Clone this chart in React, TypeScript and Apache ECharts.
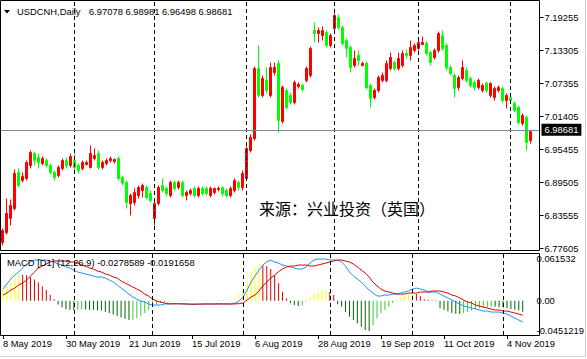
import React, { useEffect, useRef } from 'react';
import * as echarts from 'echarts';

// ---------- data ----------
const SYMBOL = 'USDCNH,Daily';
const FIRST_DAY = '2019-05-08';

// [open, close, low, high]
const candles: number[][] = [
  [6.7869, 6.8085, 6.7815, 6.8121], [6.8049, 6.8392, 6.8013, 6.8662], [6.8302, 6.8536, 6.8175, 6.8644],
  [6.8482, 6.9113, 6.8446, 6.9185], [6.9131, 6.8896, 6.8860, 6.9203], [6.8986, 6.9059, 6.8950, 6.9131],
  [6.9023, 6.9311, 6.8986, 6.9347], [6.9257, 6.9491, 6.9203, 6.9527], [6.9473, 6.9347, 6.9257, 6.9509],
  [6.9401, 6.9311, 6.9203, 6.9473], [6.9293, 6.9383, 6.9257, 6.9419], [6.9347, 6.9257, 6.9221, 6.9383],
  [6.9257, 6.9131, 6.9095, 6.9293], [6.9131, 6.9041, 6.8986, 6.9167], [6.9077, 6.9221, 6.9041, 6.9257],
  [6.9203, 6.9347, 6.9167, 6.9383], [6.9347, 6.9257, 6.9203, 6.9401], [6.9257, 6.9419, 6.9221, 6.9473],
  [6.9347, 6.9221, 6.9167, 6.9473], [6.9257, 6.9167, 6.9113, 6.9293], [6.9203, 6.9311, 6.9167, 6.9347],
  [6.9275, 6.9311, 6.9257, 6.9347], [6.9221, 6.9473, 6.9203, 6.9618], [6.9383, 6.9437, 6.9347, 6.9564],
  [6.9473, 6.9221, 6.9185, 6.9527], [6.9221, 6.9311, 6.9185, 6.9347], [6.9293, 6.9347, 6.9257, 6.9383],
  [6.9347, 6.9383, 6.9311, 6.9419], [6.9329, 6.9365, 6.9293, 6.9383], [6.9383, 6.9023, 6.8986, 6.9419],
  [6.9041, 6.8939, 6.8896, 6.9077], [6.8950, 6.8590, 6.8482, 6.8986], [6.8572, 6.8716, 6.8356, 6.8752],
  [6.8590, 6.8770, 6.8536, 6.8842], [6.8716, 6.8860, 6.8662, 6.8896], [6.8806, 6.8896, 6.8680, 6.8932],
  [6.8860, 6.8680, 6.8644, 6.8896], [6.8752, 6.8626, 6.8590, 6.8806], [6.8302, 6.8572, 6.8175, 6.8626],
  [6.8572, 6.8860, 6.8536, 6.8896], [6.8896, 6.8806, 6.8770, 6.9023], [6.8842, 6.8752, 6.8698, 6.8878],
  [6.8716, 6.8950, 6.8680, 6.8986], [6.8950, 6.8842, 6.8806, 6.8986], [6.8860, 6.8950, 6.8824, 6.8986],
  [6.8950, 6.8716, 6.8680, 6.8986], [6.8716, 6.8770, 6.8626, 6.8806], [6.8752, 6.8806, 6.8716, 6.8842],
  [6.8842, 6.8716, 6.8680, 6.8878], [6.8716, 6.8842, 6.8680, 6.8878], [6.8842, 6.8752, 6.8716, 6.8878],
  [6.8842, 6.8752, 6.8716, 6.8878], [6.8716, 6.8842, 6.8680, 6.8878], [6.8770, 6.8842, 6.8734, 6.8860],
  [6.8824, 6.8842, 6.8788, 6.8878], [6.8860, 6.8752, 6.8698, 6.8878], [6.8806, 6.8716, 6.8680, 6.8842],
  [6.8716, 6.8842, 6.8680, 6.8878], [6.8806, 6.8986, 6.8770, 6.9023], [6.8950, 6.8860, 6.8806, 6.8986],
  [6.8860, 6.9113, 6.8806, 6.9167], [6.9023, 6.9563, 6.8986, 6.9600], [6.9527, 6.9762, 6.9491, 6.9816],
  [6.9744, 7.1006, 6.9708, 7.1042], [7.1006, 7.0519, 7.0483, 7.1421], [7.0519, 7.0826, 7.0483, 7.0880],
  [7.0790, 7.0609, 7.0555, 7.1024], [7.0519, 7.1024, 7.0483, 7.1114], [7.0934, 7.1024, 7.0880, 7.1114],
  [7.1096, 7.0068, 6.9852, 7.1150], [7.0050, 7.0664, 7.0014, 7.0700], [7.0609, 7.0303, 7.0267, 7.0645],
  [7.0519, 7.0393, 7.0357, 7.0573], [7.0393, 7.0754, 7.0357, 7.0790], [7.0682, 7.0718, 7.0645, 7.0754],
  [7.0700, 7.0627, 7.0591, 7.0736], [7.0790, 7.1006, 7.0754, 7.1042], [7.0880, 7.1367, 7.0844, 7.1403],
  [7.1691, 7.1637, 7.1475, 7.1835], [7.1637, 7.1691, 7.1475, 7.1745], [7.1601, 7.1691, 7.1511, 7.1763],
  [7.1655, 7.1421, 7.1385, 7.1691], [7.1421, 7.1601, 7.1385, 7.1637], [7.1727, 7.1962, 7.1691, 7.1998],
  [7.1926, 7.1745, 7.1709, 7.1980], [7.1745, 7.1457, 7.1421, 7.1781], [7.1511, 7.1367, 7.1204, 7.1547],
  [7.1385, 7.1024, 7.0934, 7.1421], [7.1060, 7.1186, 7.1024, 7.1331], [7.1240, 7.1150, 7.1060, 7.1331],
  [7.1060, 7.1096, 7.1042, 7.1132], [7.1096, 7.0664, 7.0627, 7.1132], [7.0700, 7.0465, 7.0303, 7.0736],
  [7.0483, 7.0609, 7.0447, 7.0645], [7.0609, 7.0844, 7.0573, 7.0880], [7.0790, 7.0880, 7.0754, 7.0934],
  [7.0790, 7.1096, 7.0754, 7.1150], [7.1006, 7.1204, 7.0970, 7.1294], [7.1114, 7.1006, 7.0970, 7.1150],
  [7.1006, 7.1186, 7.0970, 7.1294], [7.1060, 7.1276, 7.1024, 7.1331], [7.1276, 7.1240, 7.1186, 7.1349],
  [7.1240, 7.1385, 7.1150, 7.1511], [7.1331, 7.1421, 7.1294, 7.1457], [7.1367, 7.1475, 7.1331, 7.1565],
  [7.1439, 7.1475, 7.1421, 7.1583], [7.1457, 7.1276, 7.1240, 7.1493], [7.1294, 7.1114, 7.1060, 7.1331],
  [7.1204, 7.1331, 7.1168, 7.1367], [7.1331, 7.1637, 7.1294, 7.1673], [7.1601, 7.1367, 7.1331, 7.1691],
  [7.1421, 7.1024, 7.0970, 7.1457], [7.1024, 7.0916, 7.0880, 7.1060], [7.0880, 7.0645, 7.0483, 7.0916],
  [7.0664, 7.0844, 7.0609, 7.0880], [7.0826, 7.1024, 7.0790, 7.1150], [7.0970, 7.0790, 7.0754, 7.1024],
  [7.0826, 7.0700, 7.0664, 7.0862], [7.0754, 7.0664, 7.0609, 7.0790], [7.0664, 7.0790, 7.0627, 7.0826],
  [7.0609, 7.0700, 7.0573, 7.0736], [7.0736, 7.0609, 7.0573, 7.0772], [7.0519, 7.0736, 7.0483, 7.0754],
  [7.0483, 7.0645, 7.0429, 7.0682], [7.0609, 7.0664, 7.0573, 7.0700], [7.0645, 7.0429, 7.0393, 7.0682],
  [7.0429, 7.0519, 7.0285, 7.0555], [7.0483, 7.0429, 7.0393, 7.0519], [7.0375, 7.0249, 7.0213, 7.0411],
  [7.0303, 7.0032, 6.9996, 7.0339], [7.0014, 7.0158, 6.9978, 7.0195], [7.0123, 6.9672, 6.9527, 7.0158],
  [6.97078, 6.98681, 6.96498, 6.98981],
];

const macdDif: number[] = [
  0.0154, 0.0220, 0.0286, 0.0338, 0.0378, 0.0431, 0.0483, 0.0510, 0.0536, 0.0536, 0.0536, 0.0536, 0.0523, 0.0510,
  0.0483, 0.0470, 0.0444, 0.0431, 0.0404, 0.0378, 0.0365, 0.0352, 0.0338, 0.0325, 0.0312, 0.0312, 0.0299, 0.0273,
  0.0246, 0.0207, 0.0167, 0.0128, 0.0088, 0.0049, 0.0022, -0.0004, -0.0017, -0.0043, -0.0057, -0.0057, -0.0057, -0.0043,
  -0.0043, -0.0041, -0.0037, -0.0040, -0.0043, -0.0045, -0.0050, -0.0046, -0.0043, -0.0041, -0.0043, -0.0044, -0.0042,
  -0.0040, -0.0043, -0.0045, -0.0042,
  -0.0030, -0.0004, 0.0049, 0.0141, 0.0246, 0.0325, 0.0404, 0.0470, 0.0510, 0.0536, 0.0510, 0.0496, 0.0470, 0.0457,
  0.0444, 0.0431, 0.0417, 0.0417, 0.0444, 0.0496, 0.0536, 0.0549, 0.0549, 0.0549, 0.0536, 0.0536, 0.0536, 0.0510,
  0.0457, 0.0378, 0.0325, 0.0286, 0.0246, 0.0194, 0.0141, 0.0101, 0.0062, 0.0062, 0.0075, 0.0075, 0.0088, 0.0088,
  0.0101, 0.0115, 0.0128, 0.0154, 0.0167, 0.0154, 0.0141, 0.0115, 0.0115, 0.0115, 0.0088, 0.0062, 0.0036, 0.0009,
  -0.0017, -0.0043, -0.0070, -0.0083, -0.0096, -0.0109, -0.0122, -0.0136, -0.0136, -0.0149, -0.0149, -0.0149, -0.0162,
  -0.0175, -0.0201, -0.0228, -0.0254, -0.0278589,
];

const macdDea: number[] = [
  0.0075, 0.0101, 0.0141, 0.0167, 0.0207, 0.0233, 0.0273, 0.0325, 0.0378, 0.0431, 0.0457, 0.0483, 0.0510, 0.0523,
  0.0523, 0.0523, 0.0523, 0.0510, 0.0510, 0.0496, 0.0470, 0.0457, 0.0431, 0.0417, 0.0391, 0.0378, 0.0352, 0.0338,
  0.0312, 0.0299, 0.0259, 0.0233, 0.0207, 0.0180, 0.0154, 0.0128, 0.0088, 0.0062, 0.0022, -0.0004, -0.0017, -0.0030,
  -0.0040, -0.0041, -0.0041, -0.0041, -0.0042, -0.0043, -0.0044, -0.0045, -0.0045, -0.0044, -0.0043, -0.0043, -0.0043,
  -0.0043, -0.0042, -0.0042, -0.0043, -0.0042, -0.0038,
  -0.0030, 0.0009, 0.0049, 0.0075, 0.0128, 0.0194, 0.0246, 0.0299, 0.0338, 0.0384, 0.0417, 0.0444, 0.0457, 0.0457,
  0.0470, 0.0470, 0.0470, 0.0457, 0.0457, 0.0470, 0.0483, 0.0496, 0.0510, 0.0523, 0.0536, 0.0536, 0.0523, 0.0510,
  0.0483, 0.0444, 0.0404, 0.0365, 0.0312, 0.0246, 0.0194, 0.0154, 0.0128, 0.0115, 0.0101, 0.0088, 0.0088, 0.0088,
  0.0101, 0.0101, 0.0101, 0.0115, 0.0115, 0.0115, 0.0128, 0.0128, 0.0128, 0.0115, 0.0101, 0.0075, 0.0062, 0.0036,
  0.0009, -0.0017, -0.0030, -0.0057, -0.0070, -0.0083, -0.0096, -0.0109, -0.0122, -0.0122, -0.0136, -0.0136, -0.0149,
  -0.0162, -0.0175, -0.0191658,
];

const macdHist: number[] = [
  0.016, 0.020, 0.0245, 0.029, 0.0345, 0.034, 0.0335, 0.031, 0.028, 0.024, 0.019, 0.014, 0.008, 0.002,
  -0.005, -0.009, -0.011, -0.012, -0.0125, -0.012, -0.0115, -0.0115, -0.012, -0.012, -0.0125, -0.013, -0.0145, -0.016,
  -0.018, -0.020, -0.022, -0.024, -0.0255, -0.025, -0.023, -0.020, -0.016, -0.012, -0.008, -0.005, -0.003, -0.002, -0.001,
  -0.0005, 0.0008, 0.001, 0.0005, -0.0003, -0.0005, 0.0003, 0.0004, -0.0002, -0.0004, 0.0002, 0.0003, -0.0003, -0.0005,
  0.0002, 0.0008,
  0.0015, 0.0075, 0.0163, 0.025, 0.036, 0.0448, 0.048, 0.047, 0.0457, 0.0417, 0.0338, 0.0229, 0.0118, 0.003,
  -0.0034, -0.0057, -0.0070, -0.006, -0.001, 0.0053, 0.0097, 0.0118, 0.0134, 0.0141, 0.0115, 0.0075, -0.0047, -0.0079,
  -0.0145, -0.0211, -0.0254, -0.0298, -0.0342, -0.0386, -0.0399, -0.032, -0.0232, -0.0166, -0.0122, -0.0079, -0.003,
  0.002, 0.004, 0.006, 0.008, 0.010, 0.009, 0.006, 0.002, 0.001, 0.0005, -0.001, -0.010, -0.012, -0.014, -0.016, -0.017,
  -0.0175, -0.016, -0.015, -0.013, -0.011, -0.010, -0.009, -0.0085, -0.008, -0.008, -0.0085, -0.009, -0.010, -0.011,
  -0.012, -0.013, -0.0145,
];

const priceTicks = [6.77605, 6.83555, 6.89505, 6.95455, 7.01405, 7.07355, 7.13305, 7.19255];
const priceMin = 6.77154;
const priceMax = 7.2223;
const macdTicks = [-0.0451219, 0, 0.061532];
const labelDates = ['2019-05-08', '2019-05-30', '2019-06-21', '2019-07-15', '2019-08-06', '2019-08-28', '2019-09-19', '2019-10-11', '2019-11-04'];
const monthSeparators = ['2019-06-03', '2019-07-01', '2019-08-01', '2019-09-02', '2019-10-01', '2019-11-01'];
const watermark = '来源：兴业投资（英国）';

// ---------- helpers ----------
const MONTHS = ['Jan', 'Feb', 'Mar', 'Apr', 'May', 'Jun', 'Jul', 'Aug', 'Sep', 'Oct', 'Nov', 'Dec'];
function tradingDays(start: string, count: number): string[] {
  const out: string[] = [];
  const d = new Date(start + 'T00:00:00Z');
  while (out.length < count) {
    const wd = d.getUTCDay();
    if (wd !== 0 && wd !== 6) out.push(d.toISOString().slice(0, 10));
    d.setUTCDate(d.getUTCDate() + 1);
  }
  return out;
}
const fmtDate = (s: string) => {
  const [y, m, d] = s.split('-');
  return `${+d} ${MONTHS[+m - 1]} ${y}`;
};

const FONT = "Tahoma, 'Liberation Sans', Arial, sans-serif";
const FS = 9.4;
const UP = '#ff0000';
const DOWN = '#00ff00';

export default function App() {
  const ref = useRef<HTMLDivElement>(null);
  useEffect(() => {
    if (!ref.current) return;
    const chart = echarts.init(ref.current, null, { renderer: 'svg' });
    const dates = tradingDays(FIRST_DAY, candles.length);
    const cats = [...dates, 'pad-1', 'pad-2'];
    const last = candles[candles.length - 1];
    const bid = last[1];
    const isLabel = (_i: number, v: string) => labelDates.includes(v);

    const histColors = macdHist.map((v, i) => {
      const prev = i > 0 ? macdHist[i - 1] : null;
      if (v >= 0) return prev === null || v >= prev ? '#ffff00' : '#dd0000';
      return prev === null || v <= prev ? '#006400' : '#32cd32';
    });

    const sepLines = (color: string) =>
      monthSeparators.map((d) => ({
        xAxis: d,
        lineStyle: { color, type: [4, 3], width: 1 },
        label: { show: false },
      }));

    const option: any = {
      animation: false,
      backgroundColor: '#ffffff',
      textStyle: { fontFamily: FONT, fontSize: FS, color: '#000' },
      grid: [
        { left: 0.5, top: 1, width: 540, height: 250 },
        { left: 0.5, top: 254, width: 540, height: 81 },
      ],
      xAxis: [
        {
          type: 'category', gridIndex: 0, data: cats, show: false,
          axisLine: { show: false, onZero: false },
        },
        {
          type: 'category', gridIndex: 1, data: cats,
          axisLine: { show: false, onZero: false },
          axisTick: { show: true, alignWithLabel: true, interval: isLabel, length: 4, lineStyle: { color: '#000' } },
          axisLabel: {
            interval: isLabel, formatter: (v: string) => fmtDate(v), align: 'left', margin: 4,
            color: '#000', fontSize: FS, fontFamily: FONT,
          },
          splitLine: { show: false },
        },
      ],
      yAxis: [
        {
          type: 'value', gridIndex: 0, position: 'right', offset: -1, min: priceMin, max: priceMax,
          axisLine: { show: false }, splitLine: { show: false },
          axisTick: { show: true, customValues: priceTicks, length: 4, lineStyle: { color: '#000' } },
          axisLabel: {
            customValues: priceTicks, formatter: (v: number) => v.toFixed(5), margin: 5,
            color: '#000', fontSize: FS, fontFamily: FONT,
          },
        },
        {
          type: 'value', gridIndex: 1, position: 'right', offset: -1, min: macdTicks[0], max: macdTicks[2],
          axisLine: { show: false }, splitLine: { show: false },
          axisTick: { show: false },
          axisLabel: {
            customValues: macdTicks,
            formatter: (v: number) => (Math.abs(v) < 1e-12 ? '0.00' : String(v)),
            margin: 5, color: '#000', fontSize: FS, fontFamily: FONT,
            verticalAlignMaxLabel: 'top', verticalAlignMinLabel: 'bottom',
          },
        },
      ],
      series: [
        {
          type: 'candlestick', xAxisIndex: 0, yAxisIndex: 0, data: candles, barWidth: 2,
          itemStyle: { color: UP, color0: DOWN, borderColor: UP, borderColor0: DOWN, borderWidth: 1 },
          markLine: {
            silent: true, symbol: ['none', 'none'], animation: false,
            data: [
              ...sepLines('#000'),
              {
                yAxis: bid,
                lineStyle: { color: '#7f8a96', type: 'solid', width: 1 },
                label: {
                  show: true, position: 'end', formatter: bid.toFixed(5), distance: 1,
                  backgroundColor: '#000', color: '#fff', padding: [2, 3, 1, 3],
                  fontSize: FS, fontFamily: FONT,
                },
              },
            ],
          },
        },
        {
          type: 'bar', xAxisIndex: 1, yAxisIndex: 1, barWidth: 1,
          data: macdHist.map((v, i) => ({ value: v, itemStyle: { color: histColors[i] } })),
          markLine: { silent: true, symbol: ['none', 'none'], animation: false, data: sepLines('#000') },
        },
        {
          type: 'line', xAxisIndex: 1, yAxisIndex: 1, data: macdDif, symbol: 'none', showSymbol: false,
          lineStyle: { color: '#1e90ff', width: 1 }, z: 3,
        },
        {
          type: 'line', xAxisIndex: 1, yAxisIndex: 1, data: macdDea, symbol: 'none', showSymbol: false,
          lineStyle: { color: '#dd0000', width: 1 }, z: 4,
        },
      ],
      graphic: [
        { type: 'rect', shape: { x: 0.5, y: 0.5, width: 539, height: 250 }, style: { fill: 'none', stroke: '#000', lineWidth: 1 }, z: 50 },
        { type: 'rect', shape: { x: 0.5, y: 253.5, width: 539, height: 82 }, style: { fill: 'none', stroke: '#000', lineWidth: 1 }, z: 50 },
        { type: 'line', shape: { x1: 0, y1: 356.5, x2: 586, y2: 356.5 }, style: { stroke: '#d0d0d0', lineWidth: 1 }, z: 50 },
        { type: 'rect', shape: { x: 585, y: 0, width: 2, height: 359 }, style: { fill: '#ffffff', stroke: 'none' }, z: 49 },
        { type: 'line', shape: { x1: 585.5, y1: 0, x2: 585.5, y2: 357 }, style: { stroke: '#d0d0d0', lineWidth: 1 }, z: 50 },
        { type: 'polygon', shape: { points: [[4, 10], [10, 10], [7, 13.5]] }, style: { fill: '#000' }, z: 50 },
        {
          type: 'text', x: 17, y: 11.5, z: 50,
          style: { text: SYMBOL, fill: '#000', fontSize: FS, fontFamily: FONT, verticalAlign: 'middle' },
        },
        {
          type: 'text', x: 89, y: 11.5, z: 50,
          style: {
            text: `${last[0].toFixed(5)} ${last[3].toFixed(5)} ${last[2].toFixed(5)} ${last[1].toFixed(5)}`,
            fill: '#000', fontSize: FS, fontFamily: FONT, verticalAlign: 'middle',
          },
        },
        {
          type: 'text', x: 7, y: 262, z: 50,
          style: {
            text: `MACD [D1] (12,26,9) ${macdDif[macdDif.length - 1].toFixed(7)} ${macdDea[macdDea.length - 1].toFixed(7)}`,
            fill: '#000', fontSize: FS, fontFamily: FONT, verticalAlign: 'middle',
          },
        },
        {
          type: 'text', x: 259, y: 208, z: 50,
          style: { text: watermark, fill: '#000', fontSize: 16, fontFamily: "'Noto Sans CJK SC', sans-serif", verticalAlign: 'middle' },
        },
      ],
    };
    chart.setOption(option);
    return () => chart.dispose();
  }, []);
  return (
    <div
      ref={ref}
      style={{ position: 'fixed', left: 0, top: 0, width: 587, height: 359, background: '#fff' }}
    />
  );
}
